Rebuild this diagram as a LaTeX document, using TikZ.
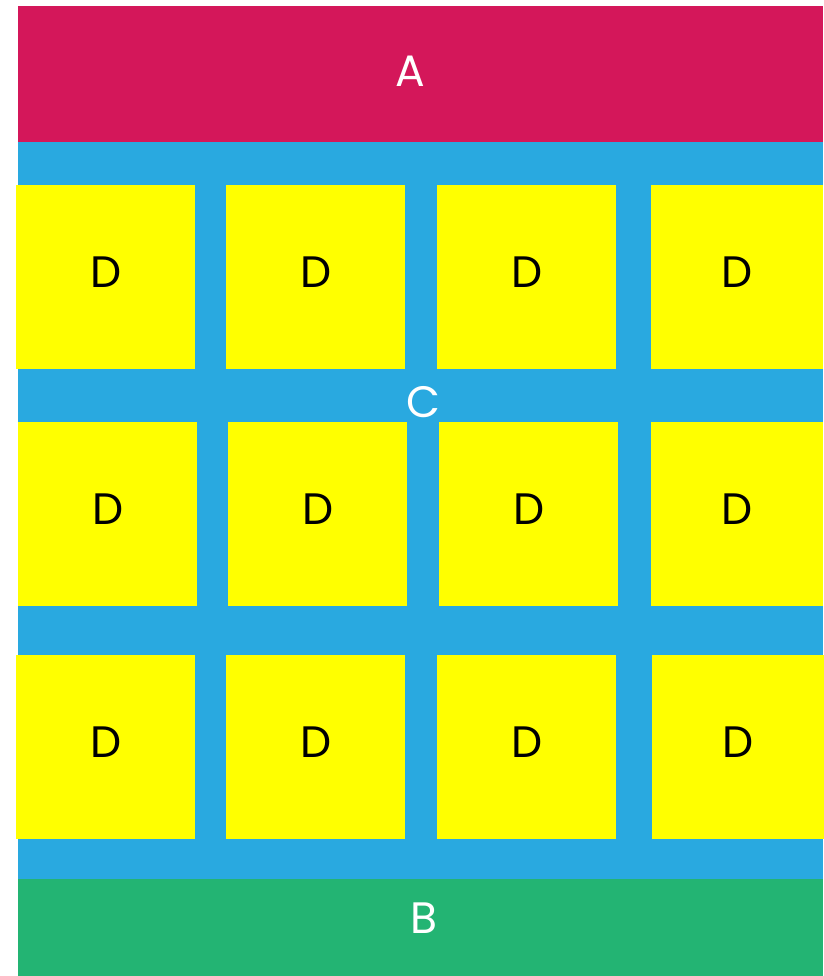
\documentclass[tikz,border=0pt]{standalone}
\usepackage{fontspec}
\setmainfont{Poppins}
\usetikzlibrary{positioning}
\definecolor{hdred}{HTML}{D4175A}
\definecolor{panelblue}{HTML}{29A9E0}
\definecolor{ftgreen}{HTML}{23B473}
\definecolor{cellyel}{HTML}{FFFF00}
\newcommand{\biglabel}{\fontsize{44}{44}\selectfont}
\tikzset{
  band/.style  = {rectangle, inner sep=0pt, anchor=north west,
                  minimum width=805pt},
  lbl/.style   = {font=\biglabel, text=white, inner sep=0pt},
  cell/.style  = {rectangle, fill=cellyel, inner sep=0pt, anchor=north west,
                  minimum width=179pt, minimum height=184pt, font=\biglabel,
                  text depth=10pt},
}

\begin{document}
\begin{tikzpicture}[x=1pt,y=-1pt]
  \useasboundingbox (0,0) rectangle (823,976);
  % panels
  \node[band, fill=panelblue, minimum height=737pt] (panel) at (18,142) {};
  \node[band, fill=hdred, minimum height=136pt] (top) at (18,6) {};
  \node[band, fill=ftgreen, minimum height=97pt] (bottom) at (18,879) {};
  \node[lbl] (A) at (410,71) {A};
  \node[lbl] (C) at (423,402) {C};
  \node[lbl] (B) at (424,918) {B};
  % D cells, row / top / left edges
  \foreach \r/\t/\xa/\xb/\xc/\xd in {1/185/16/226/437/651,
                                     2/422/18/228/439/651,
                                     3/655/16/226/437/652}{
    \foreach \c/\x in {1/\xa, 2/\xb, 3/\xc}{
      \node[cell] (d\r\c) at (\x,\t) {D};
    }
    \node[cell, minimum width=172pt] (d\r4) at (\xd,\t) {D};
  }
\end{tikzpicture}
\end{document}
